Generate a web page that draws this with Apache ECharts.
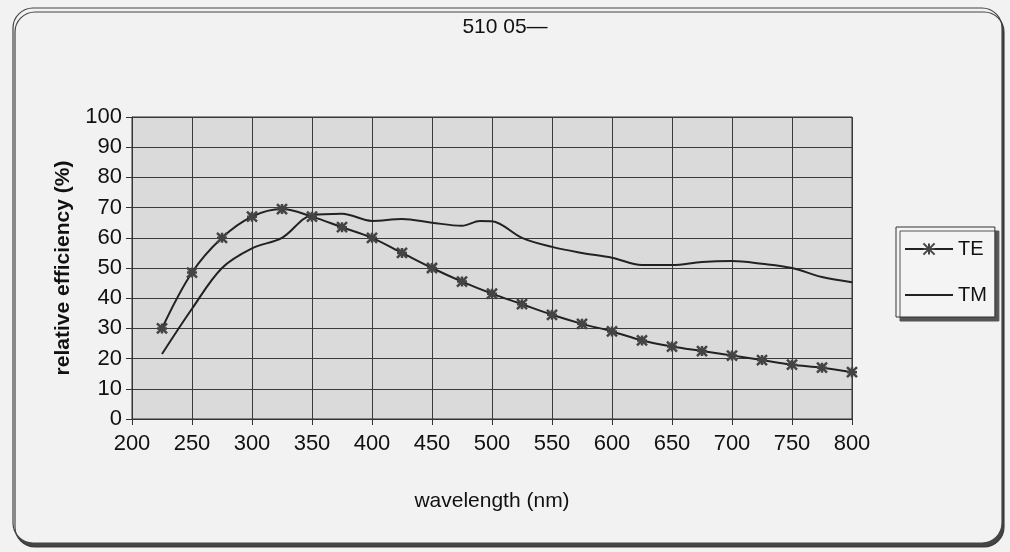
<!DOCTYPE html>
<html><head><meta charset="utf-8">
<script src="https://cdn.jsdelivr.net/npm/echarts@6/dist/echarts.min.js"></script>
<style>html,body{margin:0;padding:0;background:#f2f2f2;}#c{width:1010px;height:552px;}</style>
</head><body><div id="c"></div>
<script>
const titleText = '510 05\u2014';
const xTicks = [200,250,300,350,400,450,500,550,600,650,700,750,800];
const teWavelength = [225,250,275,300,325,350,375,400,425,450,475,500,525,550,575,600,625,650,675,700,725,750,775,800];
const teValues =     [30,48.5,60,67,69.5,67,63.5,60,55,50,45.5,41.5,38,34.5,31.5,29,26,24,22.5,21,19.5,18,17,15.5];
const tmWavelength = [225,250,275,300,325,350,375,400,425,450,475,490,500,525,550,575,600,625,650,675,700,725,750,775,800];
const tmValues =     [21.5,36.5,50,56.5,60,67.5,68,65.6,66.2,65,64,65.6,65.5,60,57,55,53.4,51,51,52,52.3,51.4,50,47,45.3];

const FONT = "'Liberation Sans',Arial,sans-serif";
const chart = echarts.init(document.getElementById('c'), null, {renderer:'canvas'});
const pair = (xs, ys) => xs.map((x,i)=>[x, ys[i]]);
const starPath = 'path://M0,0L10,10M10,0L0,10M5,0L5,10M0,5L10,5';
chart.setOption({
  backgroundColor: '#f2f2f2',
  animation: false,
  graphic: [{
    type: 'rect', z: -10,
    shape: {x: 13, y: 8, width: 989, height: 535, r: 20},
    style: {fill: '#f2f2f2', stroke: '#444', lineWidth: 1.2,
      shadowColor: 'rgba(50,50,50,0.9)', shadowBlur: 0, shadowOffsetX: 2, shadowOffsetY: 4}
  }],
  title: {
    text: titleText, left: 'center', top: 12, 
    textStyle: {fontFamily: FONT, fontSize: 21, fontWeight: 'normal', color: '#111'}
  },
  legend: {
    orient: 'vertical', left: 896, top: 227,
    padding: [12, 8, 12, 8], itemGap: 26, itemWidth: 48, itemHeight: 14,
    backgroundColor: '#f4f4f4', borderColor: '#333', borderWidth: 1,
    shadowColor: '#555', shadowBlur: 0, shadowOffsetX: 4, shadowOffsetY: 4,
    textStyle: {fontFamily: FONT, fontSize: 20, color: '#111'},
    data: ['TE', {name: 'TM', itemStyle: {opacity: 0}}]
  },
  grid: {left: 132, right: 158, top: 117, bottom: 133, show: true,
    backgroundColor: '#dadada', borderColor: '#333', borderWidth: 1},
  xAxis: {
    type: 'value', min: 200, max: 800, interval: 50,
    name: 'wavelength (nm)', nameLocation: 'middle', nameGap: 72,
    nameTextStyle: {fontFamily: FONT, fontSize: 21, color: '#111'},
    axisLine: {show: true, lineStyle: {color: '#333'}},
    axisTick: {show: true, length: 6, lineStyle: {color: '#333'}},
    axisLabel: {fontFamily: FONT, fontSize: 22, color: '#111', margin: 14},
    splitLine: {show: true, lineStyle: {color: '#3a3a3a', width: 1}}
  },
  yAxis: {
    type: 'value', min: 0, max: 100, interval: 10,
    name: 'relative efficiency (%)', nameLocation: 'middle', nameGap: 58,
    nameTextStyle: {fontFamily: FONT, fontSize: 21, fontWeight: 'bold', color: '#111'},
    axisLine: {show: true, lineStyle: {color: '#333'}},
    axisTick: {show: true, length: 6, lineStyle: {color: '#333'}},
    axisLabel: {fontFamily: FONT, fontSize: 22, color: '#111', margin: 10},
    splitLine: {show: true, lineStyle: {color: '#3a3a3a', width: 1}}
  },
  series: [{
    name: 'TE', type: 'line', smooth: 0.35,
    data: pair(teWavelength, teValues),
    symbol: starPath, symbolSize: 10, showAllSymbol: true,
    lineStyle: {color: '#222', width: 2},
    itemStyle: {color: '#666', borderColor: '#444', borderWidth: 2.5}
  }, {
    name: 'TM', type: 'line', smooth: 0.35,
    data: pair(tmWavelength, tmValues),
    symbol: 'none',
    lineStyle: {color: '#222', width: 2},
    itemStyle: {color: '#222'}
  }]
});
</script></body></html>
